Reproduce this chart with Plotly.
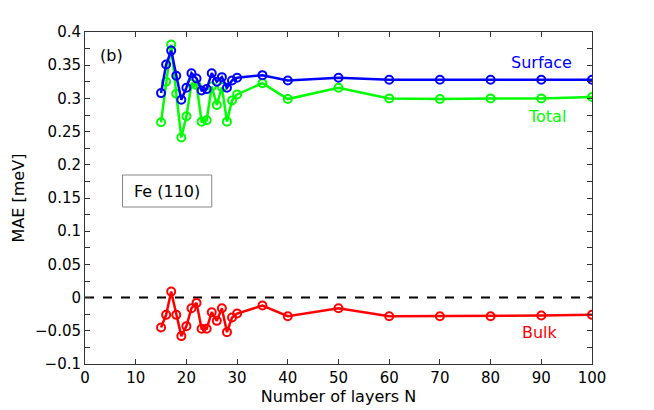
import plotly.graph_objects as go

# Number of layers N
layers = [15, 16, 17, 18, 19, 20, 21, 22, 23, 24, 25, 26, 27, 28, 29, 30,
          35, 40, 50, 60, 70, 80, 90, 100]

# MAE contributions in meV
surface = [0.308, 0.351, 0.372, 0.334, 0.298, 0.316, 0.338, 0.330, 0.312, 0.314,
           0.338, 0.325, 0.332, 0.316, 0.327, 0.331,
           0.335, 0.327, 0.331, 0.328, 0.328, 0.328, 0.328, 0.328]
total = [0.264, 0.325, 0.381, 0.307, 0.241, 0.273, 0.322, 0.320, 0.265, 0.267,
         0.318, 0.290, 0.317, 0.265, 0.297, 0.306,
         0.323, 0.299, 0.316, 0.300, 0.299, 0.300, 0.300, 0.302]
bulk = [-0.045, -0.026, 0.009, -0.026, -0.058, -0.043, -0.016, -0.008, -0.047, -0.047,
        -0.022, -0.035, -0.016, -0.052, -0.030, -0.024,
        -0.012, -0.028, -0.016, -0.028, -0.028, -0.028, -0.027, -0.026]

font = "DejaVu Sans, Verdana, sans-serif"

fig = go.Figure()

# zero reference line
fig.add_trace(go.Scatter(x=[0, 100], y=[0, 0], mode="lines",
                         line=dict(color="black", width=2, dash="dash"),
                         showlegend=False, hoverinfo="skip"))

for name, vals, color in [("Total", total, "#00ff00"),
                          ("Surface", surface, "#0000ff"),
                          ("Bulk", bulk, "#ff0000")]:
    fig.add_trace(go.Scatter(
        x=layers, y=vals, mode="lines+markers", name=name,
        line=dict(color=color, width=2.5),
        marker=dict(symbol="circle-open", size=8, color=color, line=dict(width=2)),
        showlegend=False))

# curve labels
fig.add_annotation(x=90.1, y=0.354, text="Surface", showarrow=False,
                   font=dict(color="#0000ff", size=16, family=font))
fig.add_annotation(x=91.1, y=0.2725, text="Total", showarrow=False,
                   font=dict(color="#00ff00", size=16, family=font))
fig.add_annotation(x=89.7, y=-0.053, text="Bulk", showarrow=False,
                   font=dict(color="#ff0000", size=16, family=font))
fig.add_annotation(x=5.3, y=0.365, text="(b)", showarrow=False,
                   font=dict(color="black", size=16, family=font))

# "Fe (110)" text box
fig.add_shape(type="rect", x0=7.4, x1=25.0, y0=0.1364, y1=0.1846,
              line=dict(color="#888888", width=1), fillcolor="white")
fig.add_annotation(x=16.2, y=0.1605, text="Fe (110)", showarrow=False,
                   font=dict(color="black", size=16, family=font))

axis_common = dict(
    showgrid=False, zeroline=False, showline=True, linecolor="#333333",
    linewidth=1, mirror="ticks", ticks="inside", ticklen=5, tickcolor="#333333",
    tickfont=dict(size=15, color="black", family=font), automargin=False,
)

fig.update_xaxes(range=[0, 100], dtick=10, tick0=0,
                 title=dict(text="Number of layers N", standoff=2,
                            font=dict(size=16, color="black", family=font)),
                 **axis_common)
fig.update_yaxes(range=[-0.1, 0.4], dtick=0.05, tick0=0,
                 minor=dict(dtick=0.025, ticks="inside", ticklen=5,
                            tickcolor="#333333", showgrid=False),
                 title=dict(text="MAE [meV]", standoff=6,
                            font=dict(size=16, color="black", family=font)),
                 **axis_common)

# page body adds an 8px margin, so the figure is 8px smaller than the window
fig.update_layout(
    width=646, height=402,
    margin=dict(l=77, r=62, t=24, b=46),
    plot_bgcolor="white", paper_bgcolor="white",
    font=dict(family=font),
)

fig.write_html("out.html")
